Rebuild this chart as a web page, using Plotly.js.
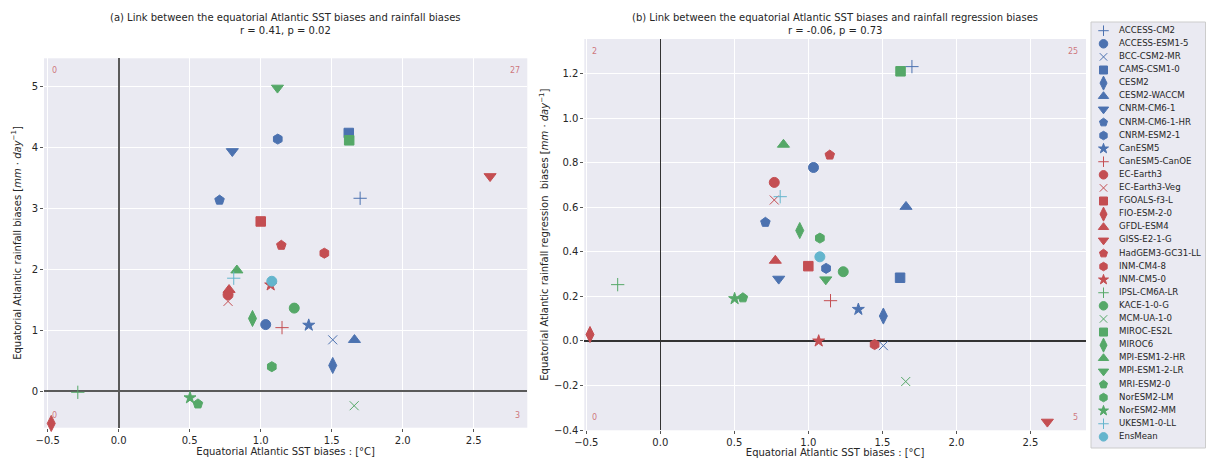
<!DOCTYPE html>
<html>
<head>
<meta charset="utf-8">
<script src="https://cdn.plot.ly/plotly-3.0.1.min.js"></script>
<style>html,body{margin:0;padding:0;background:#fff;}#chart{width:1206px;height:458px;}</style>
</head>
<body>
<div id="chart"></div>
<script>
// ---------------- DATA ----------------
const models = ["ACCESS-CM2","ACCESS-ESM1-5","BCC-CSM2-MR","CAMS-CSM1-0","CESM2","CESM2-WACCM","CNRM-CM6-1","CNRM-CM6-1-HR","CNRM-ESM2-1","CanESM5",
  "CanESM5-CanOE","EC-Earth3","EC-Earth3-Veg","FGOALS-f3-L","FIO-ESM-2-0","GFDL-ESM4","GISS-E2-1-G","HadGEM3-GC31-LL","INM-CM4-8","INM-CM5-0",
  "IPSL-CM6A-LR","KACE-1-0-G","MCM-UA-1-0","MIROC-ES2L","MIROC6","MPI-ESM1-2-HR","MPI-ESM1-2-LR","MRI-ESM2-0","NorESM2-LM","NorESM2-MM",
  "UKESM1-0-LL","EnsMean"];
// Equatorial Atlantic SST biases [°C]
const sstBias = [1.70,1.035,1.507,1.62,1.507,1.66,0.80,0.71,1.12,1.338,
  1.15,0.77,0.77,1.00,-0.475,0.777,2.615,1.145,1.448,1.07,
  -0.288,1.236,1.658,1.623,0.942,0.832,1.118,0.558,1.078,0.502,
  0.81,1.078];
// (a) Equatorial Atlantic rainfall biases [mm/day]
const rainBias = [3.16,1.09,0.84,4.23,0.42,0.84,3.93,3.13,4.13,1.08,
  1.04,1.58,1.47,2.78,-0.53,1.66,3.52,2.39,2.26,1.74,
  -0.02,1.36,-0.24,4.11,1.19,1.98,4.97,-0.21,0.40,-0.11,
  1.85,1.80];
// (b) Equatorial Atlantic rainfall regression biases [mm/day]
const rainRegBias = [1.232,0.779,-0.021,0.284,0.112,0.603,0.279,0.533,0.326,0.142,
  0.181,0.712,0.633,0.336,0.029,0.361,-0.363,0.835,-0.016,0.000,
  0.253,0.311,-0.182,1.211,0.496,0.882,0.276,0.194,0.462,0.190,
  0.648,0.378];
// quadrant counts: [top-left, top-right, bottom-left, bottom-right]
const countsA = [0, 27, 0, 3];
const countsB = [2, 25, 0, 5];
const titleA = ["(a) Link between the equatorial Atlantic SST biases and rainfall biases", "r = 0.41, p = 0.02"];
const titleB = ["(b) Link between the equatorial Atlantic SST biases and rainfall regression biases", "r = -0.06, p = 0.73"];

// ---------------- STYLE ----------------
const BLUE = "#4C72B0", RED = "#C44E52", GREEN = "#55A868", CYAN = "#64B5CD";
const symCycle = ["cross-thin-open","circle","x-thin-open","square","diamond-tall","triangle-up","triangle-down","pentagon","hexagon","star"];
const colors = models.map((m, i) => m === "EnsMean" || m === "UKESM1-0-LL" ? CYAN : [BLUE, RED, GREEN][Math.floor(i / 10)]);
const symbols = models.map((m, i) => m === "EnsMean" ? "circle" : symCycle[i % 10]);
const sizeOf = {"cross-thin-open": 9.5, "x-thin-open": 9, "circle": 10, "square": 9.5, "diamond-tall": 11.5,
  "triangle-up": 10.5, "triangle-down": 10.5, "pentagon": 10, "hexagon": 10, "star": 9};
const legSizeOf = {"cross-thin-open": 7.5, "x-thin-open": 7.5, "circle": 8.5, "square": 8, "diamond-tall": 10,
  "triangle-up": 9, "triangle-down": 9, "pentagon": 8.5, "hexagon": 8.5, "star": 7.5};
const sizes = symbols.map(s => sizeOf[s]);
const legSizes = symbols.map(s => legSizeOf[s]);

const W = 1206, H = 458;
const px = v => v / W, py = v => 1 - v / H;
const FONT = "DejaVu Sans";
const TXT = "#262626";

function scatter(yv, xa, ya) {
  return {
    x: sstBias, y: yv, xaxis: xa, yaxis: ya, type: "scatter", mode: "markers", cliponaxis: false,
    text: models, hoverinfo: "text+x+y", showlegend: false,
    marker: { symbol: symbols, color: colors, size: sizes, opacity: 1, line: { color: colors, width: 1 } }
  };
}

const legIdx = models.map((m, i) => i);
const traces = [
  scatter(rainBias, "x", "y"),
  scatter(rainRegBias, "x2", "y2"),
  { x: models.map(() => 12.5), y: legIdx, xaxis: "x3", yaxis: "y3", type: "scatter", mode: "markers",
    hoverinfo: "skip", showlegend: false, cliponaxis: false,
    marker: { symbol: symbols, color: colors, size: legSizes, opacity: 1, line: { color: colors, width: 1 } } },
  { x: models.map(() => 28), y: legIdx, xaxis: "x3", yaxis: "y3", type: "scatter", mode: "text",
    text: models, textposition: "middle right", hoverinfo: "skip", showlegend: false, cliponaxis: false,
    textfont: { family: FONT, size: 8.6, color: TXT } }
];

const axBase = {
  showgrid: true, gridcolor: "#FFFFFF", gridwidth: 1, showline: false,
  ticks: "outside", ticklen: 3, tickwidth: 1, tickcolor: "#555",
  tickfont: { family: FONT, size: 10, color: TXT }, zeroline: true, layer: "below traces"
};

const layout = {
  width: W, height: H, margin: { l: 0, r: 0, t: 0, b: 0 },
  paper_bgcolor: "#FFFFFF", plot_bgcolor: "#EAEAF2",
  font: { family: FONT, size: 10, color: TXT },
  showlegend: false,
  xaxis: Object.assign({}, axBase, {
    domain: [px(44), px(527.3)], range: [-0.526, 2.877], anchor: "y",
    tickvals: [-0.5, 0, 0.5, 1, 1.5, 2, 2.5], ticktext: ["−0.5","0.0","0.5","1.0","1.5","2.0","2.5"],
    zerolinecolor: "#5a5a5a", zerolinewidth: 1.6,
    title: { text: "Equatorial Atlantic SST biases : [°C]", font: { family: FONT, size: 10, color: TXT }, standoff: 1 }
  }),
  yaxis: Object.assign({}, axBase, {
    domain: [py(427.7), py(58.3)], range: [-0.60, 5.454], anchor: "x",
    tickvals: [0, 1, 2, 3, 4, 5],
    zerolinecolor: "#5a5a5a", zerolinewidth: 1.6,
    title: { text: "Equatorial Atlantic rainfall biases [<i>mm</i> · <i>day</i><sup>−1</sup>]", font: { family: FONT, size: 10, color: TXT }, standoff: 8 }
  }),
  xaxis2: Object.assign({}, axBase, {
    domain: [px(584.3), px(1086)], range: [-0.5135, 2.876], anchor: "y2",
    tickvals: [-0.5, 0, 0.5, 1, 1.5, 2, 2.5], ticktext: ["−0.5","0.0","0.5","1.0","1.5","2.0","2.5"],
    zerolinecolor: "#333333", zerolinewidth: 1.3,
    title: { text: "Equatorial Atlantic SST biases : [°C]", font: { family: FONT, size: 10, color: TXT }, standoff: 2 }
  }),
  yaxis2: Object.assign({}, axBase, {
    domain: [py(430.3), py(39)], range: [-0.401, 1.356], anchor: "x2",
    tickvals: [-0.4, -0.2, 0, 0.2, 0.4, 0.6, 0.8, 1.0, 1.2],
    ticktext: ["−0.4","−0.2","0.0","0.2","0.4","0.6","0.8","1.0","1.2"],
    zerolinecolor: "#333333", zerolinewidth: 1.3,
    title: { text: "Equatorial Atlantic rainfall regression  biases [<i>mm</i> · <i>day</i><sup>−1</sup>]", font: { family: FONT, size: 10, color: TXT }, standoff: 3 }
  }),
  xaxis3: { domain: [px(1091), 1], range: [0, 115], anchor: "y3", visible: false, fixedrange: true },
  yaxis3: { domain: [py(448), py(22)], range: [31.85, -0.664], anchor: "x3", visible: false, fixedrange: true },
  shapes: [
    { type: "rect", xref: "paper", yref: "paper", x0: px(1091), x1: px(1205.5), y0: py(448), y1: py(22),
      line: { color: "#CCCCCC", width: 1 }, fillcolor: "rgba(0,0,0,0)", layer: "above" }
  ],
  annotations: []
};

// titles
function addTitle(lines, xc, y1, y2) {
  layout.annotations.push({ text: lines[0], xref: "paper", yref: "paper", x: px(xc), y: py(y1), showarrow: false,
    xanchor: "center", yanchor: "middle", font: { family: FONT, size: 10, color: TXT } });
  layout.annotations.push({ text: lines[1], xref: "paper", yref: "paper", x: px(xc), y: py(y2), showarrow: false,
    xanchor: "center", yanchor: "middle", font: { family: FONT, size: 10, color: TXT } });
}
addTitle(titleA, 285.6, 17, 30);
addTitle(titleB, 835, 18, 30);

// quadrant counts
function addCounts(c, xa, ya) {
  const pos = [[0.012, 0.985, "left", "top"], [0.988, 0.985, "right", "top"], [0.012, 0.015, "left", "bottom"], [0.988, 0.015, "right", "bottom"]];
  c.forEach((v, i) => {
    layout.annotations.push({ text: String(v), xref: xa + " domain", yref: ya + " domain", x: pos[i][0], y: pos[i][1],
      xanchor: pos[i][2], yanchor: pos[i][3], showarrow: false, font: { family: FONT, size: 8, color: "rgba(196,78,82,0.75)" } });
  });
}
addCounts(countsA, "x", "y");
addCounts(countsB, "x2", "y2");

Plotly.newPlot("chart", traces, layout, { staticPlot: true, displayModeBar: false });
</script>
</body>
</html>
